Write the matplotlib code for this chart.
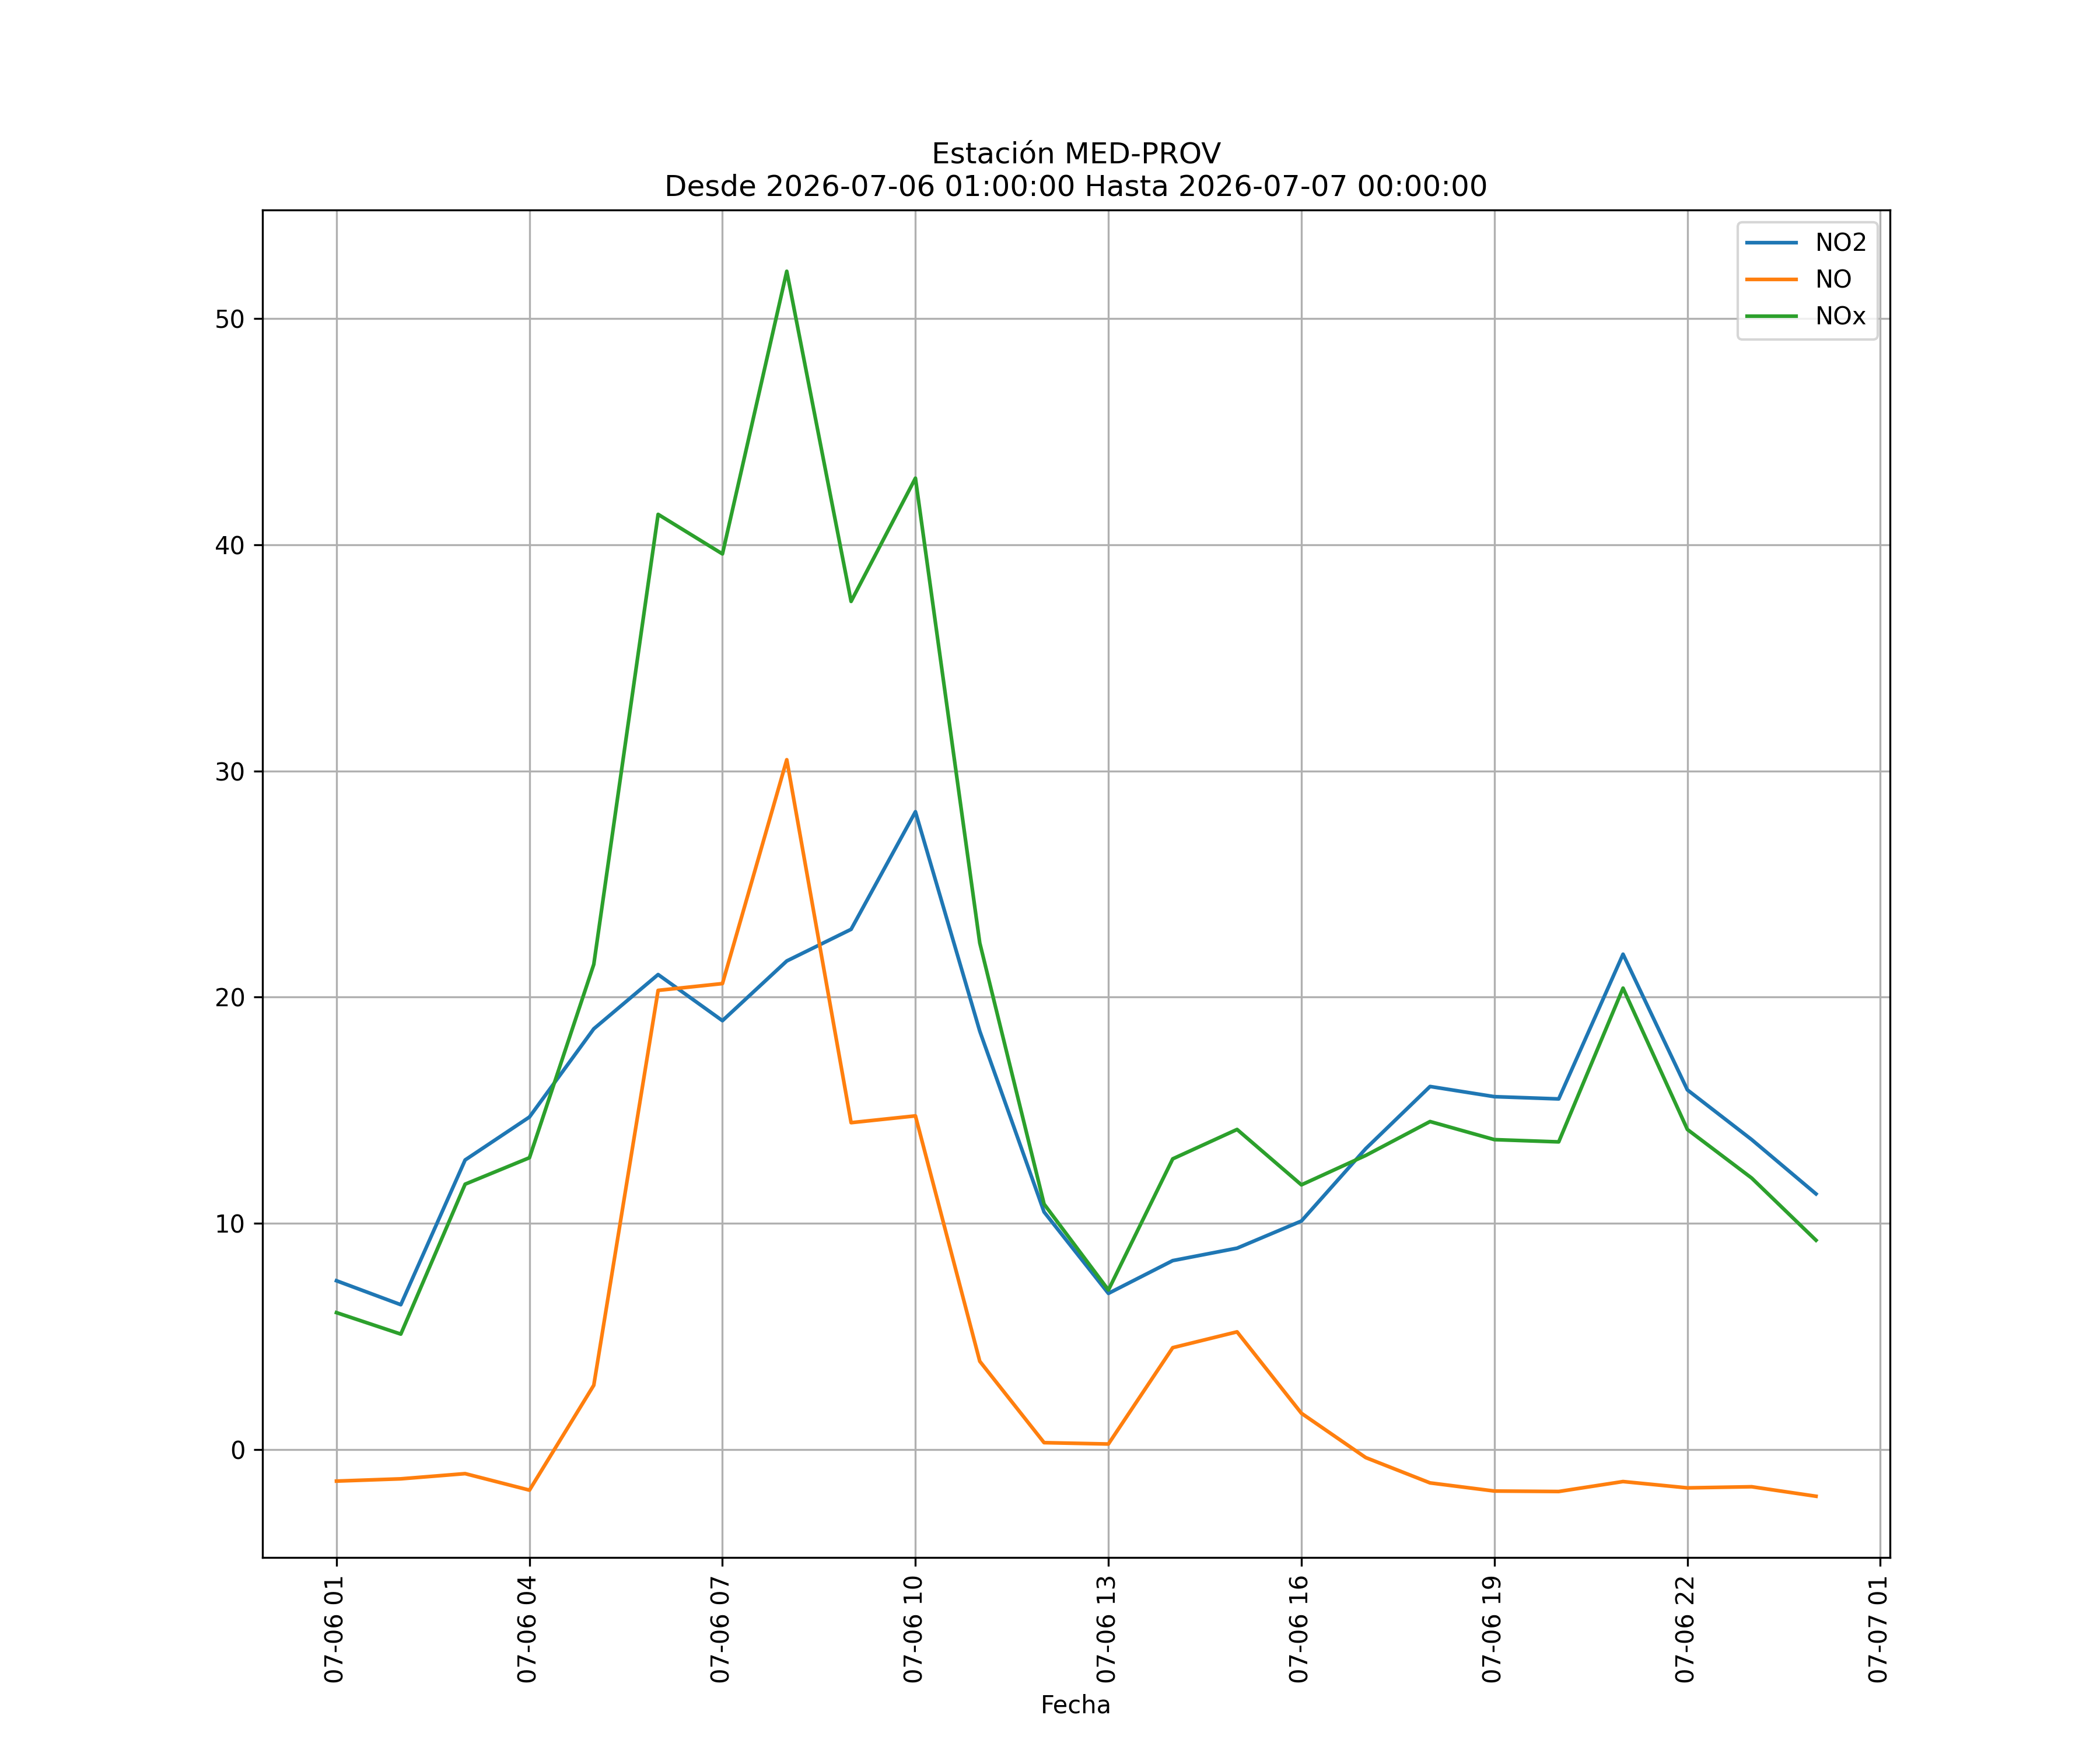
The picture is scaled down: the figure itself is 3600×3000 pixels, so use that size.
import numpy as np
import pandas as pd
import matplotlib
matplotlib.use("Agg")
import matplotlib.pyplot as plt
import matplotlib.dates as mdates

fechas = pd.date_range("2026-07-06 01:00:00", "2026-07-07 00:00:00", freq="h")

no2 = [7.46, 6.4, 12.8, 14.7, 18.6, 21.0, 18.96, 21.6, 23.0, 28.2, 18.5, 10.5,
       6.9, 8.35, 8.9, 10.1, 13.3, 16.05, 15.6, 15.5, 21.9, 15.9, 13.7, 11.3]
no = [-1.4, -1.3, -1.07, -1.8, 2.84, 20.3, 20.6, 30.5, 14.45, 14.75, 3.9, 0.3,
      0.24, 4.5, 5.2, 1.6, -0.36, -1.48, -1.84, -1.86, -1.42, -1.7, -1.65, -2.07]
nox = [6.05, 5.1, 11.73, 12.9, 21.45, 41.35, 39.6, 52.1, 37.5, 42.95, 22.4, 10.85,
       7.05, 12.85, 14.15, 11.7, 13.0, 14.5, 13.7, 13.6, 20.4, 14.15, 12.0, 9.25]

fig, ax = plt.subplots(figsize=(12, 10))
ax.plot(fechas, no2, label="NO2")
ax.plot(fechas, no, label="NO")
ax.plot(fechas, nox, label="NOx")

ax.xaxis.set_major_locator(mdates.HourLocator(byhour=range(1, 24, 3)))
ax.xaxis.set_major_formatter(mdates.DateFormatter("%m-%d %H"))
plt.xticks(rotation=90)
ax.set_xlabel("Fecha")
ax.set_title("Estación MED-PROV\nDesde 2026-07-06 01:00:00 Hasta 2026-07-07 00:00:00")
ax.grid(True)
ax.legend(loc="upper right")

plt.savefig("out.png", dpi=300)
